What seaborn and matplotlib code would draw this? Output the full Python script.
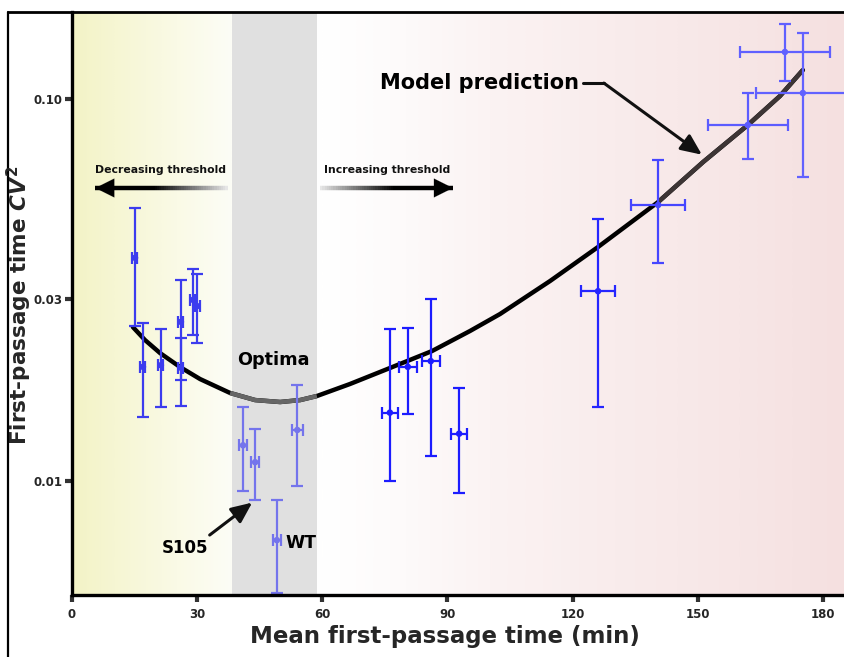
import numpy as np
import pandas as pd
import matplotlib
matplotlib.use("Agg")
import matplotlib.pyplot as plt
import seaborn as sns
from matplotlib.collections import LineCollection
from matplotlib.lines import Line2D
from matplotlib.colors import to_rgb

# ---------------- data ----------------
# experimental points: mean first-passage time (min) and CV^2
point_x = [15.1, 17.0, 21.3, 26.1, 26.1, 29.0, 30.0,
           41.0, 43.9, 54.0, 49.1,
           76.2, 80.5, 86.0, 92.8,
           126.1, 140.5, 162.0, 170.9, 175.2]
point_xerr = [0.6, 0.6, 0.6, 0.6, 0.6, 0.6, 0.6,
              0.9, 0.9, 1.3, 0.9,
              1.9, 2.2, 2.2, 1.9,
              4.1, 6.4, 9.6, 10.7, 11.3]
point_y = [0.0384, 0.0199, 0.0201, 0.0261, 0.0198, 0.0298, 0.0287,
           0.0124, 0.0112, 0.0136, 0.0070,
           0.0151, 0.0199, 0.0206, 0.0133,
           0.0314, 0.0528, 0.0855, 0.1328, 0.1037]
point_ylo = [0.0255, 0.0147, 0.0156, 0.0184, 0.0157, 0.0241, 0.0230,
             0.0094, 0.0089, 0.0097, 0.0051,
             0.0100, 0.0150, 0.0116, 0.0093,
             0.0156, 0.0373, 0.0696, 0.1115, 0.0625]
point_yhi = [0.0519, 0.0260, 0.0250, 0.0336, 0.0237, 0.0359, 0.0348,
             0.0156, 0.0137, 0.0178, 0.0089,
             0.0250, 0.0252, 0.0300, 0.0175,
             0.0485, 0.0692, 0.1037, 0.1571, 0.1490]

# model prediction curve
model_x = [14.6, 17.5, 21.1, 25.9, 30.7, 37.9, 43.9, 49.9, 54.7, 58.7,
           66.6, 76.2, 86.3, 95.4, 102.6, 114.6, 126.1, 140.5, 151.3,
           162.0, 169.7, 175.2]
model_y = [0.02529, 0.02339, 0.02163, 0.01988, 0.01849, 0.01700, 0.01629,
           0.01610, 0.01629, 0.01669, 0.01794, 0.01976, 0.02189, 0.02470,
           0.02736, 0.03339, 0.04099, 0.05374, 0.06843, 0.08548, 0.1018,
           0.1191]

x_ticks = [0, 30, 60, 90, 120, 150, 180]
y_ticks = [0.01, 0.03, 0.10]
y_tick_labels = ["0.01", "0.03", "0.10"]
optima_band = (38.4, 58.8)

# point colours (style, parallel to the data above)
point_colors = (["#3c3cee"] * 7 + ["#7474ec"] * 4 + ["#1c1cff"] * 4 +
                ["#2626ff", "#4646ff", "#5c5cff", "#6060ff", "#6262ff"])

# ---------------- figure ----------------
sns.set_style("ticks")
plt.rcParams["font.family"] = ["DejaVu Sans"]
plt.rcParams["font.weight"] = "bold"
plt.rcParams["mathtext.fontset"] = "custom"
plt.rcParams["mathtext.it"] = "DejaVu Sans:italic:bold"
plt.rcParams["mathtext.rm"] = "DejaVu Sans:bold"
plt.rcParams["mathtext.bf"] = "DejaVu Sans:bold"

W, H = 845, 657
fig = plt.figure(figsize=(W / 100, H / 100), dpi=100)
ax = fig.add_axes([72 / W, 1 - 595 / H, (W - 72) / W, (595 - 12) / H])
ax.set_yscale("log")
XMAX = 185.3
YMIN, YMAX = 0.00503, 0.169

# background gradient
stops_x = [0, 10, 25, 38, 60, 80, 100, 130, 160, XMAX]
stops_c = ["#f3f3c6", "#f6f6d3", "#fafae6", "#fcfdf6", "#ffffff", "#fdfafa",
           "#fbf3f3", "#f9ecec", "#f7e6e6", "#f5e0e0"]
xs = np.linspace(0, XMAX, 600)
rgb = np.array([to_rgb(c) for c in stops_c])
grad = np.stack([np.interp(xs, stops_x, rgb[:, k]) for k in range(3)], axis=-1)
ax.imshow(grad[np.newaxis, :, :], extent=[0, XMAX, YMIN, YMAX], aspect="auto",
          zorder=0, interpolation="bilinear")
ax.set_yscale("log")
ax.set_xlim(0, XMAX)
ax.set_ylim(YMIN, YMAX)
ax.axvspan(*optima_band, color="#e0e0e0", zorder=0.5, lw=0)

# model prediction curve
sns.lineplot(x=model_x, y=model_y, ax=ax, color="black", lw=3.2, zorder=3,
             sort=False, estimator=None)
mx = np.array(model_x)
my = np.array(model_y)
band = (mx >= 37.9) & (mx <= 58.7)
ax.plot(mx[band], my[band], color="#666666", lw=3.2, zorder=3.1,
        solid_capstyle="butt")
right = mx >= 140.5
ax.plot(mx[right], my[right], color="#3d3535", lw=3.2, zorder=3.1,
        solid_capstyle="butt")

# data points with error bars
df = pd.DataFrame({"x": point_x, "y": point_y})
for i in range(len(point_x)):
    ax.errorbar(point_x[i], point_y[i], xerr=point_xerr[i],
                yerr=[[point_y[i] - point_ylo[i]], [point_yhi[i] - point_y[i]]],
                fmt="none", ecolor=point_colors[i], elinewidth=1.6,
                capsize=4, capthick=1.6, zorder=4)
sns.scatterplot(data=df, x="x", y="y", ax=ax, color=point_colors, s=22,
                edgecolor="none", zorder=5, legend=False)

# axes styling
for s in ["top", "right"]:
    ax.spines[s].set_visible(False)
for s in ["left", "bottom"]:
    ax.spines[s].set_linewidth(2.4)
    ax.spines[s].set_color("black")
    ax.spines[s].set_zorder(6)
ax.set_xticks(x_ticks)
ax.set_xticklabels([str(t) for t in x_ticks])
ax.set_yticks(y_ticks)
ax.set_yticklabels(y_tick_labels)
ax.yaxis.set_minor_locator(matplotlib.ticker.NullLocator())
ax.tick_params(axis="both", which="major", direction="out", length=5,
               width=3, color="#333333", labelsize=8.5, pad=2)
ax.tick_params(axis="x", pad=4)
for lab in ax.get_xticklabels() + ax.get_yticklabels():
    lab.set_fontweight("bold")
ax.set_xlabel("")
ax.set_ylabel("")

fig.text(445 / W, 1 - 637 / H, "Mean first-passage time (min)",
         ha="center", va="center", fontsize=16.5, fontweight="bold")
fig.text(19 / W, 1 - 305 / H, r"First-passage time $CV^2$", rotation=90,
         ha="center", va="center", fontsize=15.5, fontweight="bold")

# outer frame
fig.add_artist(Line2D([8 / W, 8 / W], [0, 1 - 12 / H], transform=fig.transFigure,
                      color="black", lw=1.6))
fig.add_artist(Line2D([8 / W, 1], [1 - 12 / H, 1 - 12 / H],
                      transform=fig.transFigure, color="black", lw=2.0))

# gradient threshold arrows
def grad_arrow(x_tail, x_head, y, ax):
    n = 60
    xx = np.linspace(x_tail, x_head, n + 1)
    segs = [[(xx[k], y), (xx[k + 1], y)] for k in range(n)]
    t = np.linspace(0, 1, n)
    shade = np.clip(1 - t * 1.8, 0, 1) * 0.9
    cols = [(s, s, s) for s in shade]
    lc = LineCollection(segs, colors=cols, linewidths=3.2, zorder=3)
    ax.add_collection(lc)
    d = 3.5 if x_head > x_tail else -3.5
    ax.annotate("", xy=(x_head, y), xytext=(x_head - d, y),
                arrowprops=dict(arrowstyle="-|>,head_length=0.9,head_width=0.45",
                                color="black", lw=0.1, shrinkA=0, shrinkB=0,
                                mutation_scale=15), zorder=3)

y_arrow = 0.0585
grad_arrow(37.3, 5.6, y_arrow, ax)
grad_arrow(59.5, 91.3, y_arrow, ax)
ax.text(21.3, 0.0652, "Decreasing threshold", ha="center", va="center",
        fontsize=7.8, fontweight="bold", color="#111111")
ax.text(75.6, 0.0652, "Increasing threshold", ha="center", va="center",
        fontsize=7.8, fontweight="bold", color="#111111")

# annotations
ax.text(97.8, 0.1101, "Model prediction", ha="center", va="center",
        fontsize=15, fontweight="bold", color="black")
ax.plot([122.6, 127.5], [0.1101, 0.1101], color="#111111", lw=2.2, zorder=3)
ax.annotate("", xy=(151.0, 0.0715), xytext=(127.5, 0.1101),
            arrowprops=dict(arrowstyle="-|>,head_length=0.9,head_width=0.4",
                            color="#111111", lw=2.2, shrinkA=0, shrinkB=0,
                            mutation_scale=14), zorder=3)
ax.text(48.2, 0.02075, "Optima", ha="center", va="center", fontsize=12.7,
        fontweight="bold", color="black")
ax.text(27.2, 0.00668, "S105", ha="center", va="center", fontsize=12,
        fontweight="bold", color="black")
ax.annotate("", xy=(43.2, 0.00878), xytext=(33.0, 0.00722),
            arrowprops=dict(arrowstyle="-|>,head_length=0.9,head_width=0.4",
                            color="#111111", lw=2.2, shrinkA=0, shrinkB=0,
                            mutation_scale=14), zorder=3)
ax.text(55.0, 0.00689, "WT", ha="center", va="center", fontsize=12.5,
        fontweight="bold", color="black")

fig.savefig("out.png", dpi=100)
